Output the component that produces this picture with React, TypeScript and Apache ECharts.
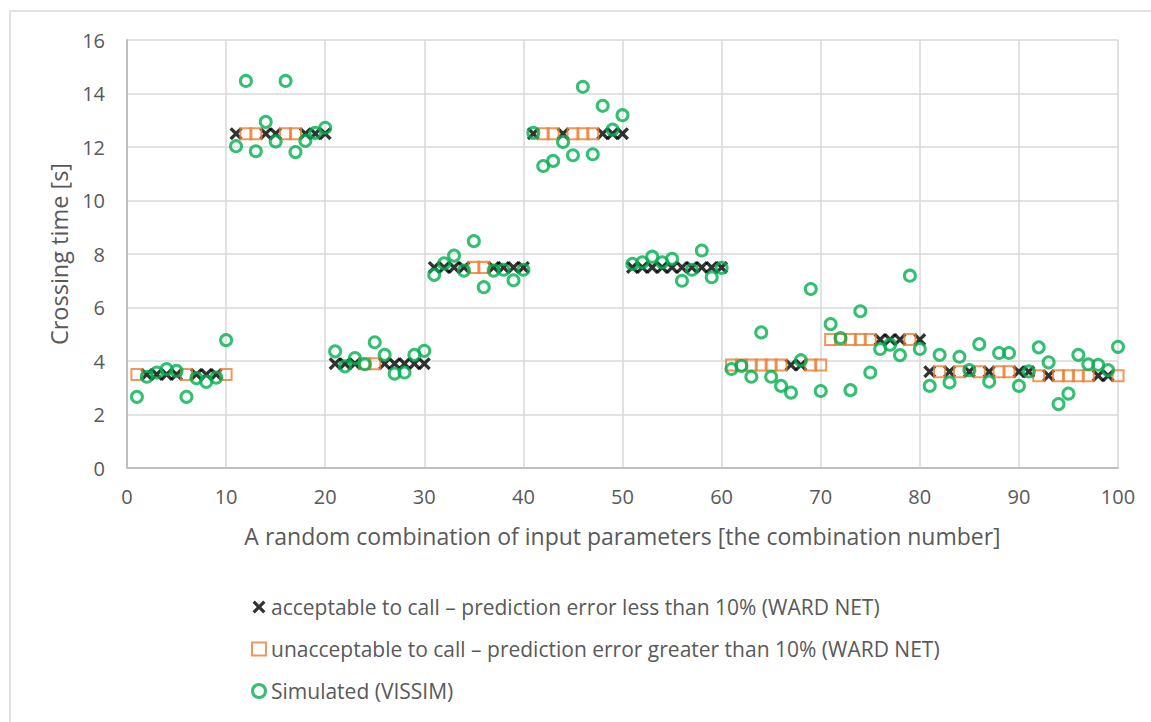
import React, { useEffect, useRef } from "react";
import * as echarts from "echarts";

// Predicted crossing time (WARD NET) for combinations 1..100
const predicted: number[] = [
  3.5, 3.5, 3.5, 3.5, 3.5, 3.5, 3.5, 3.5, 3.5, 3.5,
  12.5, 12.5, 12.5, 12.5, 12.5, 12.5, 12.5, 12.5, 12.5, 12.5,
  3.9, 3.9, 3.9, 3.9, 3.9, 3.9, 3.9, 3.9, 3.9, 3.9,
  7.5, 7.5, 7.5, 7.5, 7.5, 7.5, 7.5, 7.5, 7.5, 7.5,
  12.5, 12.5, 12.5, 12.5, 12.5, 12.5, 12.5, 12.5, 12.5, 12.5,
  7.5, 7.5, 7.5, 7.5, 7.5, 7.5, 7.5, 7.5, 7.5, 7.5,
  3.85, 3.85, 3.85, 3.85, 3.85, 3.85, 3.85, 3.85, 3.85, 3.85,
  4.8, 4.8, 4.8, 4.8, 4.8, 4.8, 4.8, 4.8, 4.8, 4.8,
  3.6, 3.6, 3.6, 3.6, 3.6, 3.6, 3.6, 3.6, 3.6, 3.6,
  3.6, 3.45, 3.45, 3.45, 3.45, 3.45, 3.45, 3.45, 3.45, 3.45,
];

// A = acceptable (error < 10%), U = unacceptable (error > 10%)
const status: string[] = [
  "U", "A", "A", "A", "A", "U", "A", "A", "A", "U",
  "A", "U", "U", "A", "A", "U", "U", "A", "A", "A",
  "A", "A", "A", "U", "U", "A", "A", "A", "A", "A",
  "A", "A", "A", "A", "U", "U", "A", "A", "A", "A",
  "A", "U", "U", "A", "U", "U", "U", "A", "A", "A",
  "A", "A", "A", "A", "A", "A", "A", "A", "A", "A",
  "U", "U", "U", "U", "U", "U", "A", "A", "U", "U",
  "U", "U", "U", "U", "U", "A", "A", "A", "U", "A",
  "A", "U", "A", "U", "A", "U", "A", "U", "U", "A",
  "A", "U", "A", "U", "U", "U", "U", "A", "A", "U",
];

// Simulated crossing time (VISSIM)
const simulated: number[] = [
  2.66, 3.41, 3.57, 3.7, 3.63, 2.66, 3.36, 3.22, 3.38, 4.78,
  12.03, 14.47, 11.84, 12.94, 12.21, 14.47, 11.81, 12.23, 12.53, 12.72,
  4.36, 3.8, 4.11, 3.88, 4.7, 4.23, 3.53, 3.57, 4.23, 4.38,
  7.22, 7.65, 7.94, 7.38, 8.48, 6.76, 7.38, 7.41, 7.02, 7.41,
  12.53, 11.29, 11.48, 12.19, 11.69, 14.25, 11.73, 13.54, 12.65, 13.19,
  7.63, 7.69, 7.9, 7.69, 7.82, 7.0, 7.41, 8.13, 7.13, 7.48,
  3.7, 3.82, 3.41, 5.07, 3.41, 3.07, 2.82, 4.03, 6.69, 2.88,
  5.38, 4.86, 2.91, 5.86, 3.57, 4.45, 4.61, 4.22, 7.19, 4.45,
  3.07, 4.23, 3.2, 4.16, 3.66, 4.63, 3.23, 4.3, 4.3, 3.07,
  3.61, 4.51, 3.95, 2.39, 2.78, 4.23, 3.88, 3.86, 3.66, 4.53,
];

const xTicks = { min: 0, max: 100, interval: 10 };
const yTicks = { min: 0, max: 16, interval: 2 };

const seriesNames = [
  "acceptable to call – prediction error less than 10% (WARD NET)",
  "unacceptable to call – prediction error greater than 10% (WARD NET)",
  "Simulated (VISSIM)",
];

const X_PATH =
  "path://M0,1.8 L1.8,0 L5,3.2 L8.2,0 L10,1.8 L6.8,5 L10,8.2 L8.2,10 L5,6.8 L1.8,10 L0,8.2 L3.2,5 Z";

const FONT = "Open Sans";
const TXT = "#595959";

export default function App() {
  const ref = useRef<HTMLDivElement>(null);

  useEffect(() => {
    if (!ref.current) return;
    const chart = echarts.init(ref.current, undefined, { renderer: "svg" });

    const acceptable = predicted
      .map((v, i) => (status[i] === "A" ? [i + 1, v] : null))
      .filter((d) => d !== null);
    const unacceptable = predicted
      .map((v, i) => (status[i] === "U" ? [i + 1, v] : null))
      .filter((d) => d !== null);
    const sim = simulated.map((v, i) => [i + 1, v]);

    chart.setOption({
      animation: false,
      backgroundColor: "#ffffff",
      textStyle: { fontFamily: FONT },
      graphic: [
        {
          type: "rect",
          shape: { x: 10, y: 11, width: 1160, height: 730 },
          style: { fill: "none", stroke: "#D9D9D9", lineWidth: 1.5 },
          silent: true,
        },
      ],
      grid: { left: 127, top: 40, width: 991, height: 428, containLabel: false },
      xAxis: {
        type: "value",
        min: xTicks.min,
        max: xTicks.max,
        interval: xTicks.interval,
        name: "A random combination of input parameters [the combination number]",
        nameLocation: "middle",
        nameGap: 56,
        nameTextStyle: { color: TXT, fontSize: 23, fontFamily: FONT },
        axisLine: { show: true, lineStyle: { color: "#BFBFBF", width: 2 } },
        axisTick: { show: false },
        axisLabel: { color: TXT, fontSize: 20, margin: 18, fontFamily: FONT },
        splitLine: { show: true, lineStyle: { color: "#D9D9D9", width: 1.5 } },
      },
      yAxis: {
        type: "value",
        min: yTicks.min,
        max: yTicks.max,
        interval: yTicks.interval,
        name: "Crossing time [s]",
        nameLocation: "middle",
        nameGap: 55,
        nameTextStyle: { color: TXT, fontSize: 23.5, fontFamily: FONT },
        axisLine: { show: true, lineStyle: { color: "#BFBFBF", width: 2 } },
        axisTick: { show: false },
        axisLabel: { color: TXT, fontSize: 20, margin: 22, fontFamily: FONT },
        splitLine: { show: true, lineStyle: { color: "#D9D9D9", width: 1.5 } },
      },
      legend: {
        orient: "vertical",
        left: 246,
        top: 591,
        itemWidth: 14,
        itemHeight: 13,
        itemGap: 20,
        textStyle: { color: TXT, fontSize: 21, fontFamily: FONT, lineHeight: 22 },
        data: [
          { name: seriesNames[0], icon: X_PATH, itemStyle: { color: "#000000", borderWidth: 0 } },
          {
            name: seriesNames[1],
            icon: "rect",
            itemStyle: { color: "rgba(255,255,255,0)", borderColor: "#ED7D31", borderWidth: 2 },
          },
          {
            name: seriesNames[2],
            icon: "circle",
            itemStyle: { color: "rgba(255,255,255,0)", borderColor: "#00B050", borderWidth: 3 },
          },
        ],
      },
      series: [
        {
          name: seriesNames[0],
          type: "scatter",
          symbol: X_PATH,
          symbolSize: 13,
          data: acceptable,
          itemStyle: { color: "#000000" },
          z: 2,
        },
        {
          name: seriesNames[1],
          type: "scatter",
          symbol: "rect",
          symbolSize: 11,
          data: unacceptable,
          itemStyle: { color: "rgba(255,255,255,0)", borderColor: "#ED7D31", borderWidth: 2 },
          z: 3,
        },
        {
          name: seriesNames[2],
          type: "scatter",
          symbol: "circle",
          symbolSize: 11,
          data: sim,
          itemStyle: { color: "rgba(255,255,255,0)", borderColor: "#00B050", borderWidth: 3 },
          z: 4,
        },
      ],
    });

    return () => chart.dispose();
  }, []);

  return (
    <div
      ref={ref}
      style={{ position: "fixed", left: 0, top: 0, width: 1151, height: 722 }}
    />
  );
}
